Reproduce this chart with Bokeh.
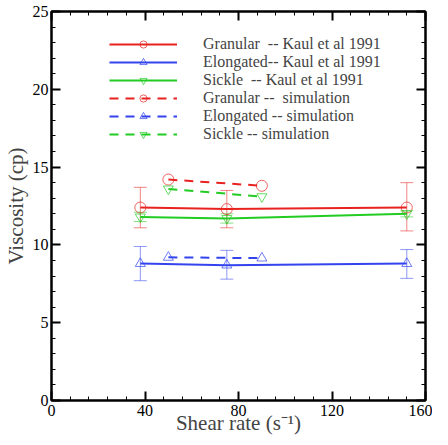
from bokeh.plotting import figure
from bokeh.models import (ColumnDataSource, Whisker, LinearAxis, SingleIntervalTicker,
                          Legend, LegendItem, Range1d, CustomJSTickFormatter)
from bokeh.embed import file_html
from bokeh.resources import INLINE

# Experimental data (Kaul et al 1991)
kaul_x = [38, 75, 152]
gran_y = [12.4, 12.3, 12.4]
gran_lo = [11.1, 11.1, 10.9]
gran_hi = [13.7, 13.5, 14.0]
elong_y = [8.8, 8.7, 8.8]
elong_lo = [7.7, 7.8, 7.85]
elong_hi = [9.9, 9.65, 9.7]
sick_y = [11.8, 11.7, 12.0]
sick_lo = [11.5, 11.4, 11.8]
sick_hi = [12.1, 12.0, 12.2]

# Simulation
sim_x = [50, 90]
gran_sim = [14.2, 13.8]
elong_sim = [9.2, 9.15]
sick_sim = [13.6, 13.1]

labels = ["Granular  -- Kaul et al 1991", "Elongated-- Kaul et al 1991",
          "Sickle  -- Kaul et al 1991", "Granular --  simulation",
          "Elongated -- simulation", "Sickle -- simulation"]

RED, BLUE, GREEN = "#e8231f", "#3344ee", "#22cc22"
FONT = '"Liberation Serif"'

p = figure(width=432, height=437, output_backend="svg", toolbar_location=None,
           x_range=Range1d(0, 160), y_range=Range1d(0, 25),
           min_border_left=44, min_border_right=7, min_border_top=11, min_border_bottom=35)
p.grid.visible = False
p.outline_line_color = "black"
p.outline_line_width = 2
p.background_fill_color = "white"

def style_axis(ax, labels_on=True):
    ax.axis_line_width = 2
    ax.major_tick_in = 9
    ax.major_tick_out = 0
    ax.minor_tick_in = 4
    ax.minor_tick_out = 0
    ax.major_tick_line_width = 2
    ax.minor_tick_line_width = 1
    ax.major_label_text_font = FONT
    ax.major_label_text_font_size = "16px"
    ax.major_label_text_color = "black"
    ax.major_label_standoff = 4
    ax.axis_label_text_font = FONT
    ax.axis_label_text_font_size = "21px"
    ax.axis_label_text_font_style = "normal"
    ax.axis_label_standoff = 2
    if not labels_on:
        ax.formatter = CustomJSTickFormatter(code="return '';")
        ax.major_label_standoff = 0

p.xaxis.ticker = SingleIntervalTicker(interval=40, num_minor_ticks=5)
p.yaxis.ticker = SingleIntervalTicker(interval=5, num_minor_ticks=5)
style_axis(p.xaxis[0])
style_axis(p.yaxis[0])
p.yaxis[0].major_label_standoff = 3
p.xaxis[0].major_label_standoff = 4
p.xaxis[0].axis_label_standoff = -8
p.xaxis.axis_label = "Shear rate (s\u207b\u00b9)"
p.yaxis.axis_label = "Viscosity (cp)"

top = LinearAxis(ticker=SingleIntervalTicker(interval=40, num_minor_ticks=5))
right = LinearAxis(ticker=SingleIntervalTicker(interval=5, num_minor_ticks=5))
style_axis(top, False)
style_axis(right, False)
p.add_layout(top, "above")
p.add_layout(right, "right")

def errbars(lo, hi, color):
    src = ColumnDataSource(dict(x=kaul_x, lo=lo, hi=hi))
    w = Whisker(source=src, base="x", lower="lo", upper="hi", dimension="height",
                line_color=color, line_alpha=0.55, line_width=1)
    for h in (w.upper_head, w.lower_head):
        h.size = 13
        h.line_color = color
        h.line_alpha = 0.55
    p.add_layout(w)

errbars(gran_lo, gran_hi, RED)
errbars(elong_lo, elong_hi, BLUE)
errbars(sick_lo, sick_hi, GREEN)

items = []
series = [
    (kaul_x, gran_y, RED, "circle", 11, "solid"),
    (kaul_x, elong_y, BLUE, "triangle", 10, "solid"),
    (kaul_x, sick_y, GREEN, "inverted_triangle", 10, "solid"),
    (sim_x, gran_sim, RED, "circle", 11, "9 7"),
    (sim_x, elong_sim, BLUE, "triangle", 10, "9 7"),
    (sim_x, sick_sim, GREEN, "inverted_triangle", 10, "9 7"),
]
for (xs, ys, c, m, s, dash), lab in zip(series, labels):
    l = p.line(xs, ys, line_color=c, line_width=2, line_dash=dash)
    sc = p.scatter(xs, ys, marker=m, size=s, fill_color=None, line_color=c,
                   line_width=1, line_alpha=0.7)
    items.append(LegendItem(label=lab, renderers=[l, sc]))

leg = Legend(items=items, location=(58, 257), padding=0, margin=0, spacing=0,
             border_line_color=None, background_fill_alpha=0,
             glyph_width=68, glyph_height=18, label_height=18, label_standoff=26,
             label_text_font=FONT, label_text_font_size="16px")
p.add_layout(leg, "center")

open("out.html", "w").write(file_html(p, INLINE))
